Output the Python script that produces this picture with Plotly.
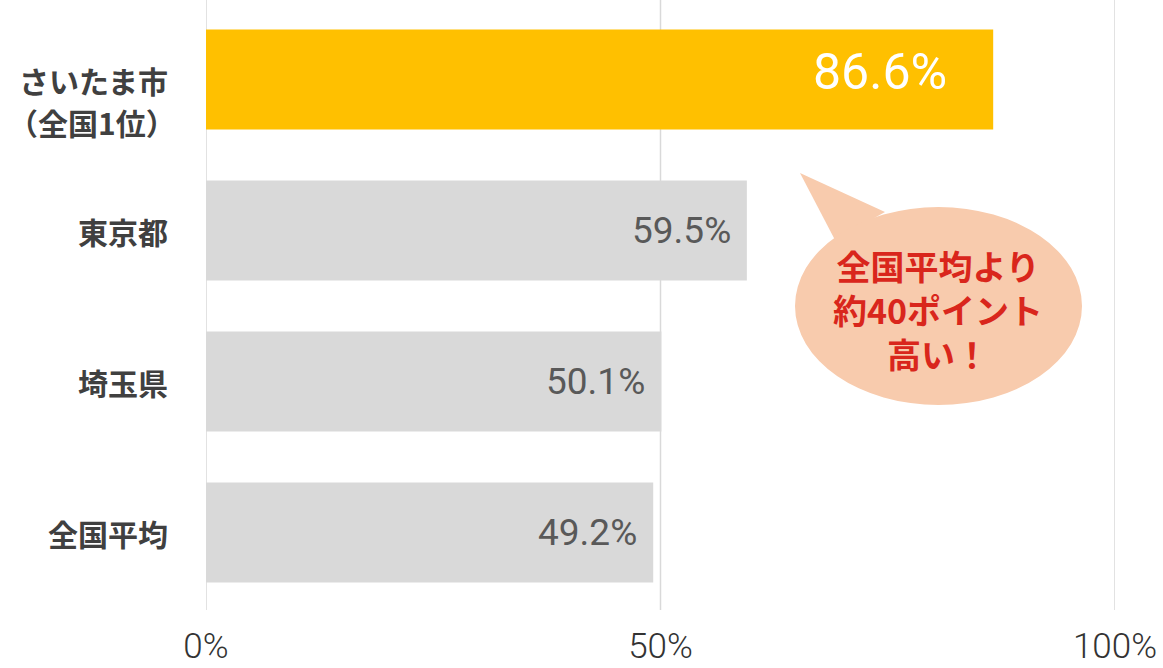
import plotly.graph_objects as go

categories = ["さいたま市", "東京都", "埼玉県", "全国平均"]
sub_labels = ["（全国1位）", "", "", ""]
values = [86.6, 59.5, 50.1, 49.2]
bar_colors = ["#FFC000", "#D9D9D9", "#D9D9D9", "#D9D9D9"]
value_text_colors = ["#FFFFFF", "#595959", "#595959", "#595959"]
tick_vals = [0, 50, 100]
tick_text = ["0%", "50%", "100%"]
bubble_lines = ["全国平均より", "約40ポイント", "高い！"]

W, H = 1163, 668
ML, MR, MT, MB = 206, 48, 4, 60
PW = W - ML - MR
PH = H - MT - MB


def px(x):
    return (x - ML) / PW


def py(y):
    return (H - MB - y) / PH


fig = go.Figure()
fig.add_trace(go.Bar(
    y=categories, x=values, orientation="h",
    marker=dict(color=bar_colors, line=dict(width=0)),
    hoverinfo="skip", showlegend=False,
))

label_font = dict(family="Noto Sans CJK JP", size=30, color="#404040", weight=600)
annotations = []
for i, (cat, v) in enumerate(zip(categories, values)):
    big = i == 0
    annotations.append(dict(
        x=v, y=cat, xref="x", yref="y", text=f"{v:.1f}%",
        showarrow=False, xanchor="right", yanchor="middle",
        xshift=-44 if big else -14, yshift=8 if big else 0,
        font=dict(family="Roboto, sans-serif", size=50 if big else 37,
                  color=value_text_colors[i]),
    ))
    annotations.append(dict(
        x=0, y=cat, xref="paper", yref="y", text=cat,
        showarrow=False, xanchor="right", yanchor="middle",
        xshift=-36, font=label_font,
    ))
    if sub_labels[i]:
        annotations.append(dict(
            x=0, y=cat, xref="paper", yref="y", text=sub_labels[i],
            showarrow=False, xanchor="right", yanchor="middle",
            xshift=-28, yshift=-42, font=label_font,
        ))

annotations.append(dict(
    x=px(938), y=py(309), xref="paper", yref="paper",
    text="<br>".join(bubble_lines), showarrow=False,
    xanchor="center", yanchor="middle", align="center",
    font=dict(family="Noto Sans CJK JP", size=34, color="#D9261C", weight=700),
))

shapes = []
for tv in tick_vals:
    shapes.append(dict(
        type="line", xref="x", yref="paper", x0=tv, x1=tv,
        y0=py(610), y1=py(0), line=dict(color="#D9D9D9", width=1.5),
        layer="below",
    ))
shapes += [
    dict(type="path", xref="paper", yref="paper",
         path=f"M {px(800)} {py(173)} L {px(835)} {py(240)} L {px(885)} {py(212)} Z",
         fillcolor="#F8CBAD", line=dict(width=0), layer="above"),
    dict(type="circle", xref="paper", yref="paper",
         x0=px(795), x1=px(1082), y0=py(405), y1=py(207),
         fillcolor="#F8CBAD", line=dict(width=0), layer="above"),
]

fig.update_layout(
    width=W, height=H,
    margin=dict(l=ML, r=MR, t=MT, b=MB, autoexpand=False),
    paper_bgcolor="white", plot_bgcolor="white",
    bargap=0.338,
    annotations=annotations,
    shapes=shapes,
    xaxis=dict(
        range=[0, 100], tickvals=tick_vals, ticktext=tick_text,
        showgrid=False, automargin=False,
        zeroline=False, showline=False, ticks="",
        ticklabelstandoff=14, ticklabeloverflow="allow",
        tickfont=dict(family="Roboto", size=35, color="#333333", weight=300),
        fixedrange=True,
    ),
    yaxis=dict(
        categoryorder="array", categoryarray=categories,
        autorange="reversed", showticklabels=False, showgrid=False,
        zeroline=False, showline=False, ticks="", fixedrange=True,
        automargin=False,
    ),
)

fig.write_html(
    "out.html",
    config={"displayModeBar": False},
    post_script="document.body.style.margin='0';document.body.style.overflow='hidden';",
)
